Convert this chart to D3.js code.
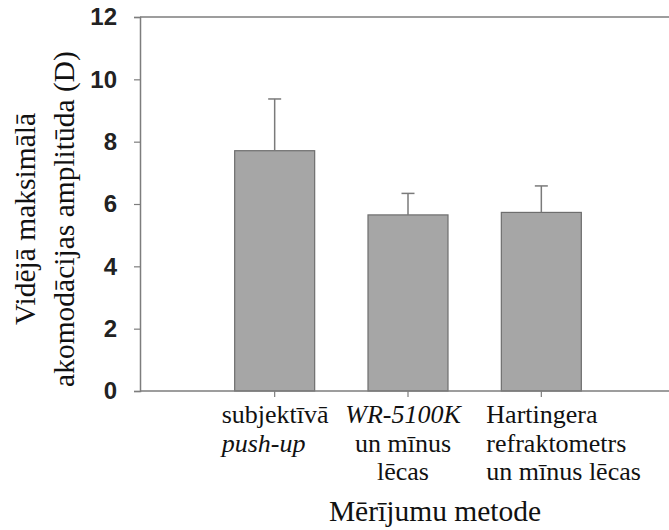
<!DOCTYPE html>
<html>
<head>
<meta charset="utf-8">
<script src="https://cdn.jsdelivr.net/npm/d3@7"></script>
<style>
  html, body { margin: 0; padding: 0; background: #fff; }
  svg { display: block; }
</style>
</head>
<body>
<svg id="chart" width="669" height="530"></svg>
<script>
// Measurement methods (x categories)
const categories = ["subjektiva", "wr5100k", "hartinger"];

// Label lines for each category; italic segments flagged
const categoryLabels = [
  [[{ t: "subjektīvā" }], [{ t: "push-up", i: true }]],
  [[{ t: "WR-5100K", i: true }], [{ t: "un mīnus" }], [{ t: "lēcas" }]],
  [[{ t: "Hartingera" }], [{ t: "refraktometrs" }], [{ t: "un mīnus lēcas" }]]
];

// Mean maximal accommodation amplitude (D) and upper error
const means = [7.71, 5.65, 5.73];
const errors = [1.66, 0.69, 0.85];

// Y axis ticks
const yTicks = [0, 2, 4, 6, 8, 10, 12];

const yTitleLines = ["Vidējā maksimālā", "akomodācijas amplitūda (D)"];
const xTitle = "Mērījumu metode";

const svg = d3.select("#chart");
const W = 669;
const plotLeft = 140, plotTop = 17, plotBottom = 391;
const serif = "'Liberation Serif', 'Times New Roman', serif";

const y = d3.scaleLinear().domain([0, 12]).range([plotBottom, plotTop]);
const x = d3.scaleBand().domain(categories).range([208, 608])
  .paddingInner(0.4).paddingOuter(0.2);

const axisColor = "#7d7d7d";

// Bars
svg.append("g").selectAll("rect")
  .data(categories)
  .join("rect")
  .attr("x", d => x(d))
  .attr("y", (d, i) => y(means[i]))
  .attr("width", x.bandwidth())
  .attr("height", (d, i) => y(0) - y(means[i]))
  .attr("fill", "#a6a6a6")
  .attr("stroke", "#6e6e6e")
  .attr("stroke-width", 1.2);

// Upper error bars
const eb = svg.append("g").attr("stroke", "#7a7a7a").attr("stroke-width", 1.5);
categories.forEach((c, i) => {
  const cx = x(c) + x.bandwidth() / 2;
  eb.append("line").attr("x1", cx).attr("x2", cx)
    .attr("y1", y(means[i])).attr("y2", y(means[i] + errors[i]));
  eb.append("line").attr("x1", cx - 6.5).attr("x2", cx + 6.5)
    .attr("y1", y(means[i] + errors[i])).attr("y2", y(means[i] + errors[i]));
});

// Frame lines: top and bottom
const frame = svg.append("g").attr("stroke", axisColor).attr("stroke-width", 1.5);
frame.append("line").attr("x1", plotLeft).attr("x2", W).attr("y1", y(12)).attr("y2", y(12));
frame.append("line").attr("x1", plotLeft).attr("x2", W).attr("y1", y(0)).attr("y2", y(0));

// Y axis
const yAxis = svg.append("g")
  .attr("transform", `translate(${plotLeft},0)`)
  .call(d3.axisLeft(y).tickValues(yTicks).tickSize(6).tickPadding(17).tickFormat(d3.format("d")));
yAxis.select(".domain").attr("stroke", axisColor).attr("stroke-width", 1.5);
yAxis.selectAll(".tick line").attr("stroke", axisColor).attr("stroke-width", 1.2);
yAxis.selectAll(".tick text")
  .attr("font-family", "'Liberation Sans', Arial, sans-serif")
  .attr("font-weight", "bold")
  .attr("font-size", 24)
  .attr("fill", "#222");

// X axis ticks (no labels; labels drawn as multi-line text)
const xAxis = svg.append("g")
  .attr("transform", `translate(0,${plotBottom})`)
  .call(d3.axisBottom(x).tickSize(6).tickFormat(""));
xAxis.select(".domain").remove();
xAxis.selectAll(".tick line").attr("stroke", axisColor).attr("stroke-width", 1.2);

// Category labels
const labelAnchor = ["start", "middle", "start"];
const labelOffset = [-53, -5, -55];
const lineY = [423, 451.5, 480];
categories.forEach((c, i) => {
  const cx = x(c) + x.bandwidth() / 2 + labelOffset[i];
  categoryLabels[i].forEach((segs, li) => {
    const t = svg.append("text")
      .attr("x", cx).attr("y", lineY[li])
      .attr("text-anchor", labelAnchor[i])
      .attr("font-family", serif)
      .attr("font-size", 26)
      .attr("fill", "#111");
    segs.forEach(s => {
      t.append("tspan").text(s.t).attr("font-style", s.i ? "italic" : "normal");
    });
  });
});

// X title
svg.append("text")
  .attr("x", 435).attr("y", 521)
  .attr("text-anchor", "middle")
  .attr("font-family", serif)
  .attr("font-size", 29.5)
  .attr("fill", "#111")
  .text(xTitle);

// Y title (two rotated lines)
const yTitleX = [35, 74];
yTitleLines.forEach((ln, i) => {
  svg.append("text")
    .attr("transform", `translate(${yTitleX[i]},219) rotate(-90)`)
    .attr("text-anchor", "middle")
    .attr("font-family", serif)
    .attr("font-size", 29.5)
    .attr("fill", "#111")
    .text(ln);
});
</script>
</body>
</html>
